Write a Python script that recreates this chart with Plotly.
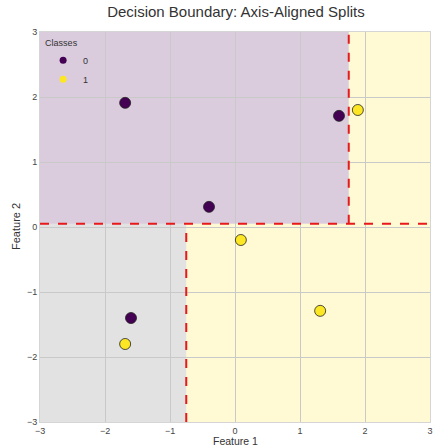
import plotly.graph_objects as go

# Data
class0_x = [-1.69, -0.40, 1.60, -1.60]
class0_y = [1.91, 0.31, 1.71, -1.40]
class1_x = [1.89, 0.09, 1.31, -1.69]
class1_y = [1.80, -0.20, -1.29, -1.80]
class_names = ["0", "1"]
class_colors = ["#440154", "#fde725"]

split_y = 0.05      # root split on Feature 2
split_x_top = 1.75  # split on Feature 1 for upper half
split_x_bot = -0.75 # split on Feature 1 for lower half
xr = [-3, 3]
yr = [-3, 3]
ticks = [-3, -2, -1, 0, 1, 2, 3]
tick_text = ["\u22123", "\u22122", "\u22121", "0", "1", "2", "3"]

# regions: (x0, x1, y0, y1, color)
regions = [
    (xr[0], split_x_top, split_y, yr[1], "rgba(68,1,84,0.2)"),
    (split_x_top, xr[1], split_y, yr[1], "rgba(253,231,37,0.2)"),
    (xr[0], split_x_bot, yr[0], split_y, "rgba(150,150,150,0.28)"),
    (split_x_bot, xr[1], yr[0], split_y, "rgba(253,231,37,0.2)"),
]

fig = go.Figure()
for (x0, x1, y0, y1, c) in regions:
    fig.add_shape(type="rect", x0=x0, x1=x1, y0=y0, y1=y1, fillcolor=c,
                  line=dict(width=0), layer="below")

lines = [
    (xr[0], xr[1], split_y, split_y),
    (split_x_top, split_x_top, split_y, yr[1]),
    (split_x_bot, split_x_bot, yr[0], split_y),
]
for (x0, x1, y0, y1) in lines:
    fig.add_shape(type="line", x0=x0, x1=x1, y0=y0, y1=y1,
                  line=dict(color="#e8191b", width=2, dash="dash"), layer="above")

for xs, ys, name, col in [(class0_x, class0_y, class_names[0], class_colors[0]),
                          (class1_x, class1_y, class_names[1], class_colors[1])]:
    fig.add_trace(go.Scatter(x=xs, y=ys, mode="markers", name=name, showlegend=False,
                             marker=dict(color=col, size=11,
                                         line=dict(color="#222222", width=0.8))))
    fig.add_trace(go.Scatter(x=[None], y=[None], mode="markers", name=name,
                             marker=dict(color=col, size=7)))

axis_common = dict(tickvals=ticks, ticktext=tick_text, showgrid=True,
                   gridcolor="#c9c9c9", gridwidth=1, zeroline=False,
                   showline=True, linecolor="#d5d5d5", linewidth=1, mirror=True,
                   ticks="", tickfont=dict(size=9, color="#444"), automargin=False)

fig.update_xaxes(**axis_common, range=xr)
fig.update_yaxes(**axis_common, range=yr)

fig.add_annotation(text="Feature 1", xref="paper", yref="paper", x=0.5, y=0,
                   yshift=-19, xanchor="center", yanchor="middle", showarrow=False,
                   font=dict(size=10.5, color="#333"))
fig.add_annotation(text="Feature 2", xref="paper", yref="paper", x=0, y=0.5,
                   xshift=-16, xanchor="right", yanchor="middle", showarrow=False,
                   textangle=-90, font=dict(size=11, color="#333"))

fig.update_layout(
    width=433, height=446,
    margin=dict(l=40, r=3, t=32, b=24),
    paper_bgcolor="white", plot_bgcolor="white",
    font=dict(family="Liberation Sans, Arial, sans-serif", color="#333"),
    title=dict(text="Decision Boundary: Axis-Aligned Splits", x=0.545, xanchor="center",
               y=0.985, yanchor="top", font=dict(size=15, color="#333")),
    legend=dict(title=dict(text="Classes", font=dict(size=9)), font=dict(size=9),
                x=0.008, y=0.995, xanchor="left", yanchor="top",
                bgcolor="rgba(0,0,0,0)", tracegroupgap=0, itemwidth=30),
    showlegend=True,
)

fig.write_html("out.html", config={"displayModeBar": False},
               post_script="document.body.style.margin='0';")
